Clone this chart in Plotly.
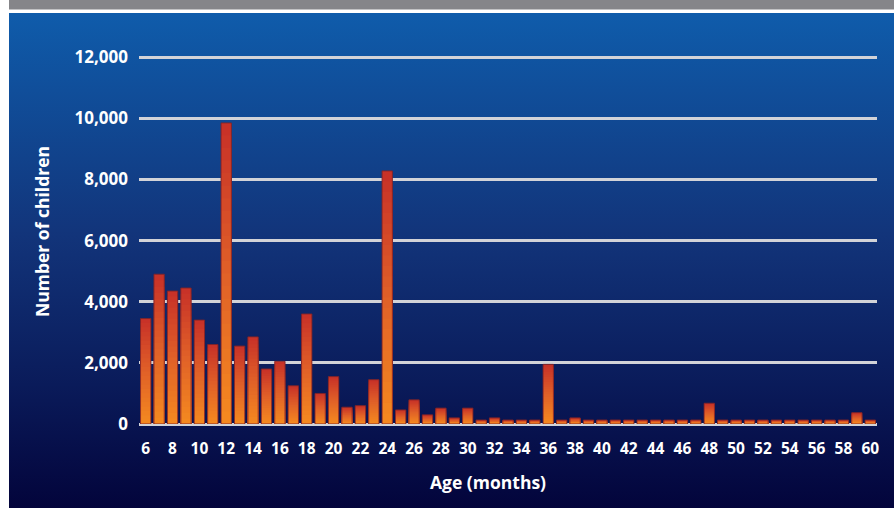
import base64
import plotly.graph_objects as go

# ---- data ----
ages = list(range(6, 61))
children = [3450, 4900, 4350, 4450, 3400, 2600, 9850, 2550, 2850, 1800,
            2050, 1250, 3600, 1000, 1550, 550, 600, 1450, 8280, 460,
            790, 300, 520, 200, 520, 130, 200, 130, 130, 130,
            1950, 130, 200, 130, 130, 130, 130, 130, 130, 130,
            130, 130, 680, 130, 130, 130, 130, 130, 130, 130,
            130, 130, 130, 370, 130]
x_ticks = list(range(6, 61, 2))
y_ticks = [0, 2000, 4000, 6000, 8000, 10000, 12000]
y_tick_text = ["0", "2,000", "4,000", "6,000", "8,000", "10,000", "12,000"]
x_title = "Age (months)"
y_title = "Number of children"

W, H = 894, 508
ML, MR, MT, MB = 139, 17, 56, 84

def lerp(c1, c2, t):
    return tuple(round(a + (b - a) * t) for a, b in zip(c1, c2))

top_c = (200, 50, 40)
mid_c = (224, 96, 40)
bot_c = (244, 136, 32)

fig = go.Figure()
N = 24
for k in range(N):
    t = k / (N - 1)
    c = lerp(top_c, mid_c, t * 2) if t < 0.5 else lerp(mid_c, bot_c, (t - 0.5) * 2)
    frac = (N - k) / N
    fig.add_trace(go.Bar(
        x=ages, y=[v * frac for v in children], width=0.77,
        marker=dict(color="rgb(%d,%d,%d)" % c, line=dict(width=0)),
        hoverinfo="skip", showlegend=False))
fig.add_trace(go.Bar(
    x=ages, y=children, width=0.77,
    marker=dict(color="rgba(0,0,0,0)", line=dict(width=1, color="rgba(130,35,40,0.9)")),
    showlegend=False))

svg = f'''<svg xmlns="http://www.w3.org/2000/svg" width="{W}" height="{H}" viewBox="0 0 {W} {H}" preserveAspectRatio="none">
<defs><linearGradient id="g" x1="0" y1="0" x2="0" y2="1">
<stop offset="0" stop-color="#0f5cab"/>
<stop offset="0.45" stop-color="#12347a"/>
<stop offset="0.75" stop-color="#0a1b5a"/>
<stop offset="1" stop-color="#03043b"/>
</linearGradient></defs>
<rect x="0" y="0" width="{W}" height="{H}" fill="#ffffff"/>
<rect x="9" y="0" width="{W-9}" height="9.5" fill="#858589"/>
<rect x="9" y="13" width="{W-9}" height="{H-13}" fill="url(#g)"/>
</svg>'''
src = "data:image/svg+xml;base64," + base64.b64encode(svg.encode()).decode()
pw = W - ML - MR
ph = H - MT - MB
fig.add_layout_image(dict(
    source=src, xref="paper", yref="paper",
    x=-ML / pw, y=1 + MT / ph, sizex=W / pw, sizey=H / ph,
    sizing="stretch", xanchor="left", yanchor="top", layer="below"))

def px_x(p):
    return (p - ML) / pw

def px_y(p):
    return (H - MB - p) / ph

font_fam = "Open Sans, Lato, sans-serif"
fig.add_annotation(text=x_title, xref="paper", yref="paper", x=px_x(488), y=px_y(482),
                   xanchor="center", yanchor="middle", showarrow=False,
                   font=dict(family=font_fam, size=17.5, color="white", weight=700))
fig.add_annotation(text=y_title, xref="paper", yref="paper", x=px_x(42), y=px_y(232),
                   xanchor="center", yanchor="middle", showarrow=False, textangle=-90,
                   font=dict(family=font_fam, size=17.5, color="white", weight=700))

fig.update_layout(
    width=W, height=H,
    margin=dict(l=ML, r=MR, t=MT, b=MB),
    barmode="overlay",
    paper_bgcolor="white",
    plot_bgcolor="rgba(0,0,0,0)",
    font=dict(family=font_fam, color="white", size=16),
    xaxis=dict(
        range=[5.5, 60.5], tickvals=x_ticks, showgrid=False, zeroline=False,
        showline=False, ticks="", ticklabelstandoff=13,
        tickfont=dict(size=15.5, color="white", weight=700),
    ),
    yaxis=dict(
        range=[0, 12040], tickvals=y_ticks, ticktext=y_tick_text,
        showgrid=True, gridcolor="#d2d3d8", gridwidth=2.5,
        zeroline=True, zerolinecolor="#d2d3d8", zerolinewidth=2.5,
        showline=False, ticks="", ticklabelstandoff=10,
        tickfont=dict(size=17, color="white", weight=700),
    ),
)

fig.write_html("out.html")
